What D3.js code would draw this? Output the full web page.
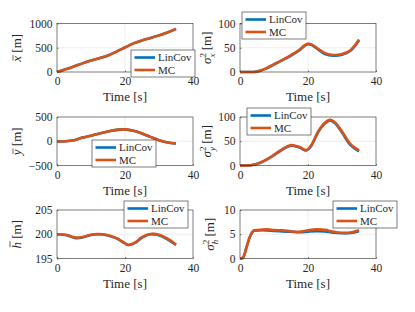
<!DOCTYPE html>
<html>
<head>
<meta charset="utf-8">
<style>
body { margin: 0; background: #fff; }
text { font-family: "Liberation Serif", "Times New Roman", serif; fill: #262626; }
</style>
<script src="https://d3js.org/d3.v7.min.js"></script>
</head>
<body>
<script>
// --- data ---
const seriesNames = ["LinCov", "MC"];
const xTicks = [0, 20, 40];

const tX = [0, 2.5, 5, 7.5, 10, 12.5, 15, 17.5, 20, 22.5, 25, 27.5, 30, 32.5, 35];
const xMeanMC = [0, 55, 115, 178, 235, 285, 340, 420, 505, 590, 650, 700, 755, 815, 890];
const xMeanLin = [0, 55, 115, 178, 235, 285, 340, 420, 505, 590, 650, 700, 755, 815, 890];

const tVarX = [0, 2.5, 4, 5, 7.5, 10, 12.5, 15, 17.5, 19, 20, 21, 22.5, 25, 27.5, 30, 32.5, 35];
const xVarMC = [0, 0, 0, 1, 7, 16, 25, 35, 46, 55, 58, 57, 50, 39, 35, 37, 45, 67];
const xVarLin = [0, 0, 0, 0.8, 6.5, 15.5, 24.5, 34, 45, 54, 57.5, 56, 49, 37, 33.5, 35.5, 44, 65];

const tY = [0, 2.5, 5, 7.5, 10, 12.5, 15, 17.5, 20, 22.5, 25, 27.5, 30, 32.5, 35];
const yMeanMC = [-5, 0, 20, 75, 115, 160, 200, 235, 245, 215, 160, 90, 20, -25, -45];
const yMeanLin = [-5, 0, 20, 75, 115, 160, 200, 235, 245, 215, 160, 90, 20, -25, -45];

const tVarY = [0, 2, 4, 6, 8, 10, 12.5, 15, 17.5, 19.5, 21, 23, 25, 26.5, 28, 30, 32.5, 35];
const yVarMC = [0, 0, 1.5, 6, 13, 22, 34, 42, 38, 32, 42, 70, 88, 94, 88, 70, 44, 31];
const yVarLin = [0, 0, 1.4, 5.8, 12.5, 21.5, 33, 41, 37, 31, 41, 69, 87, 93, 87, 68, 42, 29];

const tH = [0, 2.5, 5, 6, 7.5, 10, 12, 15, 17.5, 19, 21, 23, 25, 27.5, 30, 32.5, 35];
const hMeanMC = [200, 199.9, 199.4, 199.3, 199.45, 199.9, 200.05, 199.8, 199.2, 198.6, 197.8, 198.3, 199.4, 200.05, 199.9, 199.1, 197.9];
const hMeanLin = [200, 199.85, 199.3, 199.2, 199.35, 199.85, 200, 199.75, 199.15, 198.55, 197.8, 198.25, 199.3, 200, 199.8, 198.95, 197.8];

const tVarH = [0, 0.5, 1, 2, 3, 4, 5, 8, 10, 12.5, 15, 17.5, 20, 22.5, 25, 27.5, 30, 32.5, 35];
const hVarMC = [0, 0, 0.3, 2.5, 4.7, 5.75, 5.85, 6.0, 5.85, 5.8, 5.6, 5.5, 5.8, 6.0, 5.9, 5.5, 5.3, 5.35, 5.85];
const hVarLin = [0, 0, 0.3, 2.5, 4.6, 5.7, 5.8, 5.8, 5.7, 5.6, 5.5, 5.4, 5.55, 5.65, 5.6, 5.3, 5.2, 5.25, 5.6];

const yTicksXMean = [0, 500, 1000];
const yTicksVar100 = [0, 50, 100];
const yTicksYMean = [-500, 0, 500];
const yTicksHMean = [195, 200, 205];
const yTicksHVar = [0, 5, 10];

// --- layout ---
const W = 415, H = 312;
const colors = { LinCov: "#0072BD", MC: "#D95319" };
const cols = [57, 240], rows = [23.5, 117, 210];
const pw = 136, ph = 48.5;
const serif = "Liberation Serif";

const panels = [
  { col: 0, row: 0, t: tX, lin: xMeanLin, mc: xMeanMC, ticks: yTicksXMean, label: ["x", "bar"], labelX: 21, legend: [131, 50] },
  { col: 1, row: 0, t: tVarX, lin: xVarLin, mc: xVarMC, ticks: yTicksVar100, label: ["x", "var"], labelX: 211, legend: [242, 12] },
  { col: 0, row: 1, t: tY, lin: yMeanLin, mc: yMeanMC, ticks: yTicksYMean, label: ["y", "bar"], labelX: 21, legend: [92, 140] },
  { col: 1, row: 1, t: tVarY, lin: yVarLin, mc: yVarMC, ticks: yTicksVar100, label: ["y", "var"], labelX: 211, legend: [247, 108] },
  { col: 0, row: 2, t: tH, lin: hMeanLin, mc: hMeanMC, ticks: yTicksHMean, label: ["h", "bar"], labelX: 21, legend: [124, 201] },
  { col: 1, row: 2, t: tVarH, lin: hVarLin, mc: hVarMC, ticks: yTicksHVar, label: ["h", "var"], labelX: 214, legend: [333, 201] }
];

const svg = d3.select("body").append("svg")
  .attr("width", W)
  .attr("height", H);

panels.forEach(function(p) {
  const x0 = cols[p.col], y0 = rows[p.row];
  const x = d3.scaleLinear().domain([0, 40]).range([x0, x0 + pw]);
  const y = d3.scaleLinear().domain([p.ticks[0], p.ticks[2]]).range([y0 + ph, y0]);
  const g = svg.append("g");

  // grid
  g.selectAll(".gx").data(xTicks.slice(1, -1)).enter().append("line")
    .attr("x1", d => x(d)).attr("x2", d => x(d))
    .attr("y1", y0).attr("y2", y0 + ph)
    .attr("stroke", "#e3e3e3").attr("stroke-width", 0.6);
  g.selectAll(".gy").data(p.ticks.slice(1, -1)).enter().append("line")
    .attr("x1", x0).attr("x2", x0 + pw)
    .attr("y1", d => y(d)).attr("y2", d => y(d))
    .attr("stroke", "#e3e3e3").attr("stroke-width", 0.6);

  // axes (ticks point inwards, box on)
  const styleAxis = function(a) {
    a.attr("font-family", serif);
    a.select(".domain").remove();
    a.selectAll("text").attr("font-size", 11.5).attr("fill", "#262626");
    a.selectAll("line").attr("stroke", "#262626").attr("stroke-width", 0.6);
  };
  g.append("g").attr("transform", "translate(0," + (y0 + ph) + ")")
    .call(d3.axisBottom(x).tickValues(xTicks).tickFormat(d3.format("d")).tickSizeInner(-1.5).tickSizeOuter(0).tickPadding(5))
    .call(styleAxis);
  g.append("g").attr("transform", "translate(" + x0 + ",0)")
    .call(d3.axisLeft(y).tickValues(p.ticks).tickFormat(d3.format("d")).tickSizeInner(-1.5).tickSizeOuter(0).tickPadding(4.5))
    .call(styleAxis);

  // lines
  const pts = function(vals) { return p.t.map((t, i) => [t, vals[i]]); };
  const line = d3.line().x(d => x(d[0])).y(d => y(d[1])).curve(d3.curveCatmullRom);
  g.append("path").attr("d", line(pts(p.lin)))
    .attr("fill", "none").attr("stroke", colors.LinCov).attr("stroke-width", 2.6);
  g.append("path").attr("d", line(pts(p.mc)))
    .attr("fill", "none").attr("stroke", colors.MC).attr("stroke-width", 2.6);

  g.append("rect").attr("x", x0).attr("y", y0).attr("width", pw).attr("height", ph)
    .attr("fill", "none").attr("stroke", "#262626").attr("stroke-width", 0.6);

  // x label
  g.append("text").attr("x", x0 + pw / 2).attr("y", y0 + ph + 29)
    .attr("text-anchor", "middle").attr("font-size", 13).text("Time [s]");

  // y label
  const cy = y0 + ph / 2;
  const lg0 = g.append("g").attr("transform", "translate(" + p.labelX + "," + cy + ") rotate(-90)");
  const lab = lg0.append("text").attr("text-anchor", "middle").attr("font-size", 13);
  if (p.label[1] === "bar") {
    lab.append("tspan").attr("font-style", "italic").text(p.label[0]);
    lab.append("tspan").text(" [m]");
    // overbar drawn by hand above the symbol
    const n = lab.node();
    const s = n.getStartPositionOfChar(0).x, e = n.getEndPositionOfChar(0).x;
    const by = p.label[0] === "h" ? -11 : -8;
    lg0.append("line").attr("x1", s + 1.2).attr("x2", e + 0.8).attr("y1", by).attr("y2", by)
      .attr("stroke", "#262626").attr("stroke-width", 0.7);
  } else {
    lab.append("tspan").attr("font-style", "italic").text("\u03c3");
    lab.append("tspan").attr("font-size", 9).attr("dy", -5).text("2");
    lab.append("tspan").attr("font-size", 9).attr("font-style", "italic").attr("dx", -4.5).attr("dy", 9).text(p.label[0]);
    lab.append("tspan").attr("dy", -4).text(" [m]");
  }

  // legend
  const lx = p.legend[0], ly = p.legend[1];
  const lg = svg.append("g").attr("class", "legend");
  lg.append("rect").attr("x", lx).attr("y", ly).attr("width", 64).attr("height", 27)
    .attr("fill", "#fff").attr("stroke", "#262626").attr("stroke-width", 0.6);
  seriesNames.forEach(function(name, i) {
    const ry = ly + 7.5 + i * 12.5;
    lg.append("line").attr("x1", lx + 3.5).attr("x2", lx + 24).attr("y1", ry).attr("y2", ry)
      .attr("stroke", colors[name]).attr("stroke-width", 2.6);
    lg.append("text").attr("x", lx + 27).attr("y", ry + 3.8).attr("font-size", 11).text(name);
  });
});
</script>
</body>
</html>
